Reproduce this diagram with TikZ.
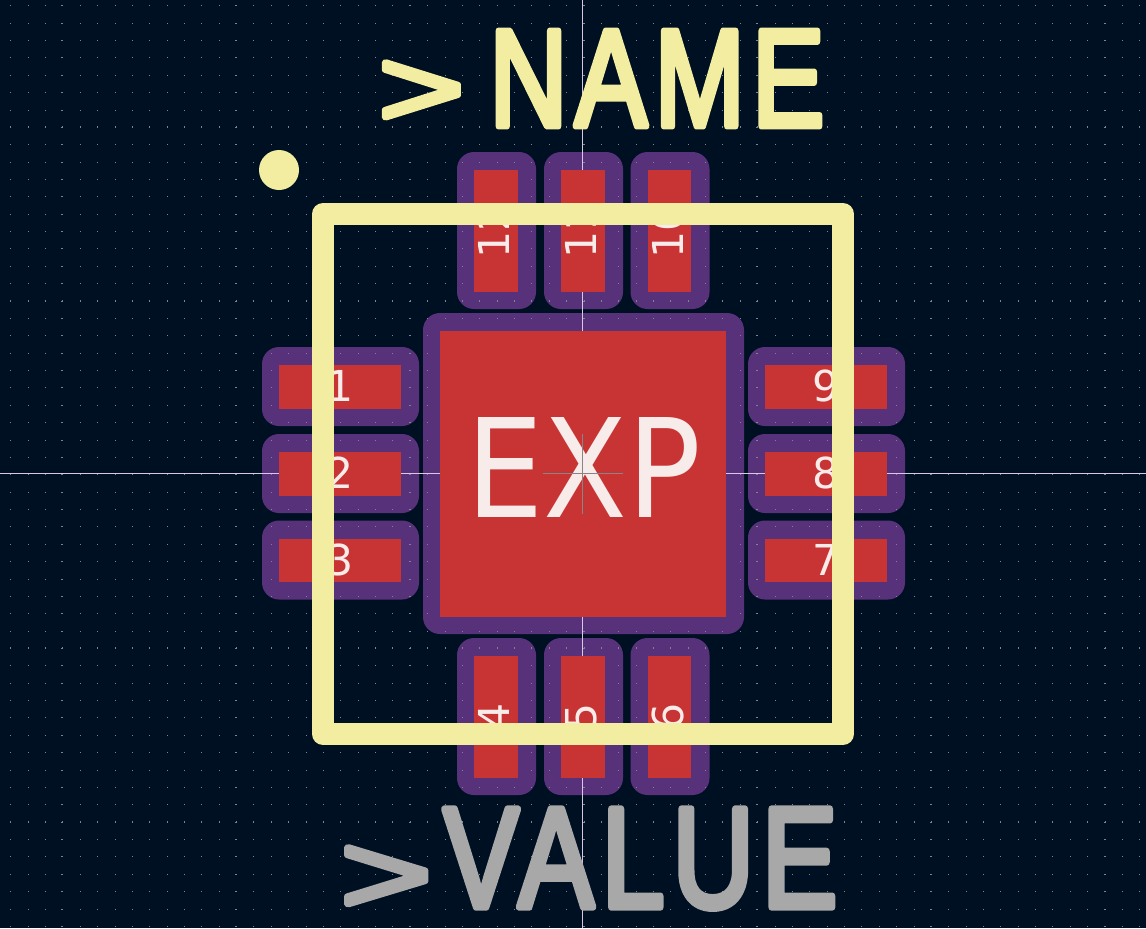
\documentclass[tikz,border=0pt]{standalone}
\usepackage{fontspec}
\usepackage{graphicx}
\setmainfont{DejaVu Sans}
\newfontfamily\silkfont[BoldFont={Liberation Sans},BoldFeatures={FakeBold=5,LetterSpace=7}]{Liberation Sans}
\usepackage{xcolor}
\definecolor{boardbg}{HTML}{001023}
\definecolor{maskpurple}{HTML}{57327A}
\definecolor{padred}{HTML}{C83434}
\definecolor{silkyellow}{HTML}{F2EDA1}
\definecolor{valuegrey}{HTML}{A8A8A8}
\definecolor{padtext}{HTML}{F8ECEA}
\definecolor{griddot}{HTML}{7F858F}
\definecolor{axisline}{HTML}{D8C8E4}
\definecolor{crossgrey}{HTML}{868686}
\tikzset{
  padlabel/.style={text=padtext,inner sep=0pt,font=\fontsize{21.3}{22}\selectfont},
  silklabel/.style={inner sep=0pt,anchor=base west,font=\silkfont\bfseries}
}
\newcommand{\drawmask}[4]{% {x}{y}{half w}{half h}
  \fill[maskpurple,rounded corners=8.5pt] (#1-#3-17.5,#2-#4-17.5) rectangle (#1+#3+17.5,#2+#4+17.5);
}
\newcommand{\roundtext}{\special{pdf:code 1 j 1 J}}
\begin{document}
\begin{tikzpicture}[x=0.5pt,y=-0.5pt]
  \useasboundingbox (0,0) rectangle (1146,928);
  \fill[boardbg] (0,0) rectangle (1146,928);
  % Solder mask
  \drawmask{583.5}{473.5}{143}{143}
  \foreach \px in {496.5,583.5,670} {
    \drawmask{\px}{230.5}{22}{61}
    \drawmask{\px}{716.5}{22}{61}
  }
  \foreach \py in {386.5,473.5,560} {
    \drawmask{340.5}{\py}{61}{22}
    \drawmask{826.5}{\py}{61}{22}
  }
  % Grid dots
  \foreach \i in {0,...,65} {
    \foreach \j in {0,...,53} {
      \fill[griddot] ({round(10.3+\i*17.37)},{round(5.3+\j*17.37)}) rectangle +(1,1);
    }
  }
  % Major grid dots
  \foreach \i in {3,13,...,63} {
    \foreach \j in {0,...,53} {
      \fill[griddot] ({round(10.3+\i*17.37)-1},{round(5.3+\j*17.37)}) rectangle +(2,1);
    }
  }
  \foreach \j in {7,17,...,47} {
    \foreach \i in {0,...,65} {
      \fill[griddot] ({round(10.3+\i*17.37)},{round(5.3+\j*17.37)-1}) rectangle +(1,2);
    }
  }
  % Axes
  \draw[axisline,line width=0.5pt] (0,473.5) -- (1146,473.5);
  \draw[axisline,line width=0.5pt] (582.5,0) -- (582.5,928);
  % Copper
  \fill[padred] (440,331) rectangle (726,617);
  \foreach \px/\hw in {496/22,583/22,669.5/21.5} {
    \fill[padred] (\px-\hw,170) rectangle (\px+\hw,292);
    \fill[padred] (\px-\hw,656) rectangle (\px+\hw,778);
  }
  \foreach \py/\hh in {387/22,474/22,560.5/21.5} {
    \fill[padred] (279,\py-\hh) rectangle (401,\py+\hh);
    \fill[padred] (765,\py-\hh) rectangle (887,\py+\hh);
  }
  % Pad numbers
  \node[padlabel] (pad1) at (340,386) {1};
  \node[padlabel] (pad2) at (340,473) {2};
  \node[padlabel] (pad3) at (340,560) {3};
  \node[padlabel,rotate=90] (pad4) at (494,717) {4};
  \node[padlabel,rotate=90] (pad5) at (581,717) {5};
  \node[padlabel,rotate=90] (pad6) at (668,717) {6};
  \node[padlabel] (pad7) at (826,560) {7};
  \node[padlabel] (pad8) at (826,473) {8};
  \node[padlabel] (pad9) at (826,386) {9};
  \node[padlabel,rotate=90] (pad10) at (668,231) {10};
  \node[padlabel,rotate=90] (pad11) at (581,231) {11};
  \node[padlabel,rotate=90] (pad12) at (494,231) {12};
  \node[text=padtext,inner sep=0pt,anchor=base,font=\fontsize{68.6}{72}\selectfont] (padexp) at (583.5,517) {\resizebox{117.5pt}{50pt}{EXP}};
  % Anchor cross
  \draw[crossgrey,line width=0.5pt] (543,473.5) -- (623,473.5);
  \draw[crossgrey,line width=0.5pt] (582.5,433.5) -- (582.5,513.5);
  % Silkscreen
  \draw[silkyellow,line width=11pt,line join=round] (323,214) rectangle (843,734);
  \fill[silkyellow] (279,170) circle (20);
  \node[silklabel,text=silkyellow] (refname) at (378,126) {\roundtext\raisebox{0pt}{\resizebox{43pt}{32pt}{>}}\hspace{12.5pt}\resizebox{167.5pt}{47.5pt}{NAME}};
  \node[silklabel,text=valuegrey] (refvalue) at (340,907) {\roundtext\raisebox{-3pt}{\resizebox{45.8pt}{33pt}{>}}\hspace{5.7pt}\resizebox{197pt}{49pt}{VALUE}};
\end{tikzpicture}
\end{document}
